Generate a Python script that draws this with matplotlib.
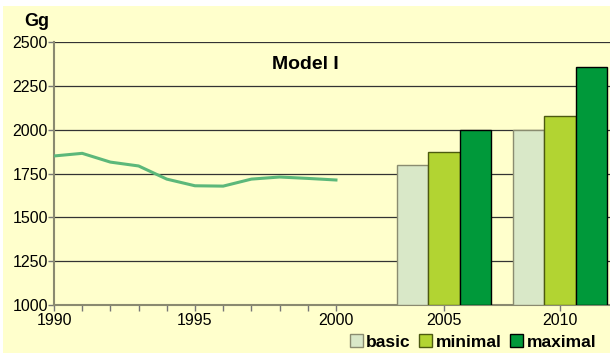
import numpy as np
import matplotlib.pyplot as plt
from matplotlib.patches import Rectangle, Patch

plt.rcParams['font.family'] = ['Liberation Sans', 'DejaVu Sans']

# historic emissions, Gg
years = [1990, 1991, 1992, 1993, 1994, 1995, 1996, 1997, 1998, 1999, 2000]
history = [1850, 1865, 1815, 1793, 1718, 1680, 1678, 1718, 1730, 1722, 1713]

# projections per scenario
proj_years = ["2005", "2010"]
basic = [1800, 2000]
minimal = [1870, 2080]
maximal = [2000, 2360]

scenarios = ["basic", "minimal", "maximal"]
colors = ["#d9e8c8", "#b2d432", "#00993a"]
edges = ["#8a8c70", "#4c5a10", "#000000"]


def main():
    fig = plt.figure(figsize=(6.10, 3.53), dpi=100, facecolor="white")
    fig.patches.append(Rectangle((3 / 610, 0), 1, 347 / 353, transform=fig.transFigure,
                                 facecolor="#ffffcc", edgecolor="none", zorder=-10))
    ax = fig.add_axes([54 / 610, 48 / 353, 556 / 610, 263 / 353])
    ax.set_facecolor("#ffffcc")

    # one x unit per year up to 2000, the projection groups sit further right
    x_line = np.array(years) - 1990
    ax.plot(x_line, history, color="#5cb87a", lw=2.2, zorder=3)

    centers = [13.83, 17.95]
    w = 1.12
    for i, vals in enumerate([basic, minimal, maximal]):
        xs = [c + (i - 1) * w for c in centers]
        ax.bar(xs, [v - 1000 for v in vals], bottom=1000, width=w,
               color=colors[i], edgecolor=edges[i], linewidth=1.0, zorder=3)

    ax.set_ylim(1000, 2500)
    ax.set_xlim(0, 19.72)
    ax.set_yticks(np.arange(1000, 2501, 250))
    ax.yaxis.grid(True, color="#333333", lw=0.9)
    ax.set_axisbelow(True)

    ax.set_xticks([0, 5, 10] + centers)
    ax.set_xticklabels(["1990", "1995", "2000"] + proj_years)
    ax.set_xticks(list(range(1, 10)), minor=True)
    ax.tick_params(axis="x", which="both", direction="out", length=4, width=1,
                   color="#777777", labelsize=11.5, pad=2)
    ax.tick_params(axis="y", direction="out", length=4, width=1, color="#777777",
                   labelsize=11.5, pad=0.5)
    for s in ["top", "right"]:
        ax.spines[s].set_visible(False)
    for s in ["left", "bottom"]:
        ax.spines[s].set_color("#8a8a70")
        ax.spines[s].set_linewidth(1.5)

    fig.text(37 / 610, 1 - 22 / 353, "Gg", fontsize=13, fontweight="bold",
             ha="center", va="center")
    ax.text(0.452, 0.915, "Model I", transform=ax.transAxes, fontsize=14,
            fontweight="bold", ha="center", va="center")

    handles = [Patch(facecolor=c, edgecolor=e, lw=1) for c, e in zip(colors, edges)]
    fig.legend(handles, scenarios, loc="center", bbox_to_anchor=(473 / 610, 11 / 353),
               ncol=3, frameon=False, handlelength=0.75, handleheight=0.75,
               handletextpad=0.2, columnspacing=0.5,
               prop={"weight": "bold", "size": 12.5})

    fig.savefig("out.png", dpi=100, facecolor=fig.get_facecolor())


if __name__ == "__main__":
    main()
